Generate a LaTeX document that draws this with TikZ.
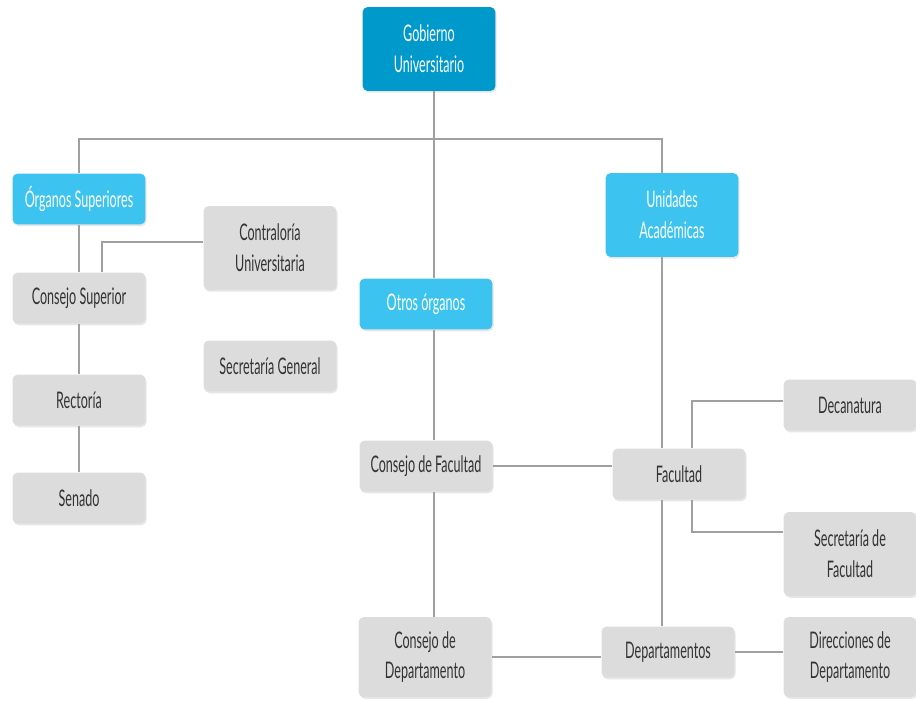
\documentclass[tikz,border=0pt]{standalone}
\usepackage{fontspec}
\setmainfont{Lato}[FakeStretch=0.55]
\usetikzlibrary{shadows}
\definecolor{azulosc}{HTML}{0099CC}
\definecolor{azulcla}{HTML}{3DC3F0}
\definecolor{grisfondo}{HTML}{DCDCDC}
\definecolor{gristexto}{HTML}{333333}
\definecolor{grislinea}{HTML}{A0A0A0}

\tikzset{
 caja/.style={rounded corners=3pt, fill=grisfondo, text=gristexto, minimum width=2.66cm,
  minimum height=1.02cm, align=center, font=\fontsize{13}{17.5}\selectfont,
  drop shadow={opacity=.2, shadow xshift=.6pt, shadow yshift=-1pt}},
 cajados/.style={caja, minimum height=1.68cm},
 azul/.style={fill=azulcla, text=white},
 linea/.style={draw=grislinea, line width=.8pt}
}

\begin{document}
\begin{tikzpicture}[x=.02cm,y=-.02cm]
 \useasboundingbox (0,0) rectangle (916,702);

 % les cases
 \node[cajados, fill=azulosc, text=white] (gob) at (429,49) {Gobierno\\Universitario};
 \node[caja, azul] (osup) at (79,199) {Órganos Superiores};
 \node[cajados, azul] (uacad) at (672,215) {Unidades\\Académicas};
 \node[caja, azul] (otros) at (426,304) {Otros órganos};
 \node[cajados] (contra) at (270,248) {Contraloría\\Universitaria};
 \node[caja] (csup) at (79,298) {Consejo Superior};
 \node[caja] (secgen) at (270,366) {Secretaría General};
 \node[caja] (rect) at (79,400) {Rectoría};
 \node[caja] (senado) at (79,498) {Senado};
 \node[caja] (cfac) at (426,466) {Consejo de Facultad};
 \node[caja] (fac) at (679,474) {Facultad};
 \node[caja] (decan) at (850,405) {Decanatura};
 \node[cajados] (secfac) at (850,554) {Secretaría de\\Facultad};
 \node[cajados, minimum height=1.6cm] (cdep) at (425,657) {Consejo de\\Departamento};
 \node[caja] (deps) at (668,652) {Departamentos};
 \node[cajados, minimum height=1.6cm] (dirdep) at (850,657) {Direcciones de\\Departamento};

 % les axes verticaux
 \coordinate (eje) at (434,0);
 \coordinate (ejeder) at (662,0);
 \coordinate (ejeizq) at (102,0);
 \coordinate (ejefac) at (692,0);
 \coordinate (barra) at (0,139);
 \coordinate (nivcon) at (0,242);
 \coordinate (nivdec) at (0,401);
 \coordinate (nivsec) at (0,532);

 \draw[linea] (gob.south -| eje) -- (otros.north -| eje);
 \draw[linea] (otros.south -| eje) -- (cfac.north -| eje);
 \draw[linea] (cfac.south -| eje) -- (cdep.north -| eje);
 \draw[linea] (osup.north) -- (osup.north |- barra) -- (barra -| ejeder) -- (uacad.north -| ejeder);

 \draw[linea] (osup.south) -- (csup.north);
 \draw[linea] (csup.south) -- (rect.north);
 \draw[linea] (rect.south) -- (senado.north);
 \draw[linea] (contra.west |- nivcon) -| (csup.north -| ejeizq);

 \draw[linea] (uacad.south -| ejeder) -- (fac.north -| ejeder);
 \draw[linea] (fac.south -| ejeder) -- (deps.north -| ejeder);
 \draw[linea] (fac.north -| ejefac) |- (decan.west |- nivdec);
 \draw[linea] (fac.south -| ejefac) |- (secfac.west |- nivsec);

 % les liaisons horizontales
 \draw[linea] (cfac.east) -- (cfac.east -| fac.west);
 \draw[linea] (cdep.east) -- (cdep.east -| deps.west);
 \draw[linea] (deps.east) -- (deps.east -| dirdep.west);
\end{tikzpicture}
\end{document}
